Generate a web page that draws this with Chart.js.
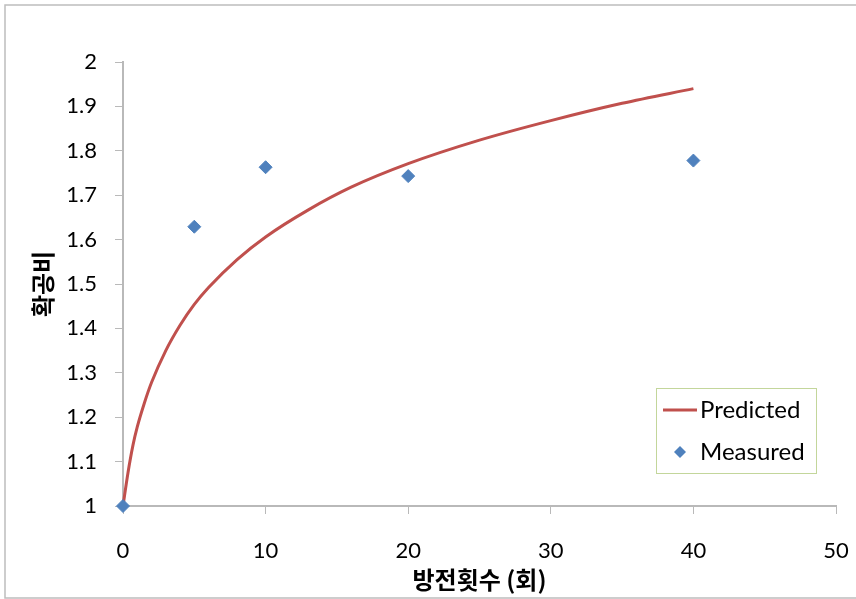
<!DOCTYPE html>
<html>
<head>
<meta charset="utf-8">
<script src="https://cdn.jsdelivr.net/npm/chart.js@4"></script>
<style>
  html, body { margin: 0; padding: 0; background: #fff; }
  #wrap { position: relative; width: 856px; height: 599px; }
</style>
</head>
<body>
<div id="wrap"><canvas id="chart-canvas" width="856" height="599"></canvas></div>
<script>
// values
const predictedX = [0, 0.35, 0.7, 1, 1.5, 2, 3, 4, 5, 6, 8, 10, 13, 16, 20, 25, 30, 35, 40];
const predictedY = [1, 1.075, 1.137, 1.178, 1.232, 1.278, 1.35, 1.407, 1.454, 1.492, 1.555, 1.606, 1.667, 1.718, 1.771, 1.824, 1.868, 1.907, 1.94];
const measuredX = [0, 5, 10, 20, 40];
const measuredY = [1, 1.629, 1.763, 1.743, 1.778];
const xTicks = [0, 10, 20, 30, 40, 50];
const yTicks = [1, 1.1, 1.2, 1.3, 1.4, 1.5, 1.6, 1.7, 1.8, 1.9, 2];
const xTitle = "방전횟수 (회)";
const yTitle = "확공비";

const RED = "#C0504D";
const BLUE = "#4F81BD";
const AXIS = "#b9b9b9";
const tickFont = { family: "Lato, 'Noto Sans', sans-serif", size: 22 };
const titleFont = { family: "'Noto Sans CJK KR', sans-serif", size: 24, weight: "bold" };

function toPoints(xs, ys) {
  return xs.map((x, i) => ({ x, y: ys[i] }));
}

// outer frame + boxed legend (drawn like the spreadsheet chart)
const framePlugin = {
  id: "frame",
  afterDraw(chart) {
    const ctx = chart.ctx;
    ctx.save();
    ctx.strokeStyle = "#bdbdbd";
    ctx.lineWidth = 1.5;
    ctx.strokeRect(5, 5, 852, 593);

    // legend box
    ctx.strokeStyle = "#c3d69b";
    ctx.lineWidth = 1;
    ctx.strokeRect(656.5, 388.5, 160, 85);
    ctx.font = "24px Lato, 'Noto Sans', sans-serif";
    ctx.fillStyle = "#000";
    ctx.textBaseline = "middle";
    ctx.textAlign = "left";
    const ds = chart.data.datasets;
    // Predicted
    ctx.strokeStyle = ds[1].borderColor;
    ctx.lineWidth = 3;
    ctx.beginPath();
    ctx.moveTo(663, 410);
    ctx.lineTo(697, 410);
    ctx.stroke();
    ctx.fillText(ds[1].label, 700, 410);
    // Measured
    ctx.fillStyle = ds[0].backgroundColor;
    ctx.beginPath();
    ctx.moveTo(680, 446);
    ctx.lineTo(686, 452);
    ctx.lineTo(680, 458);
    ctx.lineTo(674, 452);
    ctx.closePath();
    ctx.fill();
    ctx.fillStyle = "#000";
    ctx.fillText(ds[0].label, 700, 452);
    ctx.restore();
  },
};

function renderChart() {
  const ctx = document.getElementById("chart-canvas").getContext("2d");
  const config = {
    type: "scatter",
    data: {
      datasets: [
        {
          label: "Measured",
          data: toPoints(measuredX, measuredY),
          backgroundColor: BLUE,
          borderColor: BLUE,
          pointStyle: "rectRot",
          pointRadius: 6.5,
          showLine: false,
          clip: false,
          order: 1,
        },
        {
          label: "Predicted",
          data: toPoints(predictedX, predictedY),
          borderColor: RED,
          backgroundColor: RED,
          borderWidth: 3,
          pointRadius: 0,
          showLine: true,
          cubicInterpolationMode: "monotone",
          clip: false,
          order: 2,
        },
      ],
    },
    options: {
      responsive: false,
      animation: false,
      layout: { padding: { top: 62, right: 20, left: 0, bottom: 0 } },
      plugins: {
        legend: { display: false },
        tooltip: { enabled: false },
      },
      scales: {
        x: {
          type: "linear",
          min: 0,
          max: 50,
          afterBuildTicks: (s) => { s.ticks = xTicks.map((v) => ({ value: v })); },
          afterFit: (s) => {
            s.height = 93;
            s.paddingLeft = 0;
            s.paddingRight = 0;
          },
          ticks: { font: tickFont, color: "#000", padding: 24, maxRotation: 0, autoSkip: false },
          grid: { drawOnChartArea: false, drawTicks: true, tickLength: 8, color: AXIS, lineWidth: 1 },
          border: { color: AXIS, width: 2 },
          // bottom titles are offset by padding.bottom
          title: { display: true, text: xTitle, font: titleFont, color: "#000", padding: { top: 0, bottom: 5 } },
        },
        y: {
          type: "linear",
          min: 1,
          max: 2,
          afterBuildTicks: (s) => { s.ticks = yTicks.map((v) => ({ value: v })); },
          afterFit: (s) => { s.width = 123; },
          ticks: { font: tickFont, color: "#000", padding: 18, autoSkip: false, callback: (v) => String(Number(v.toFixed(1))) },
          grid: { drawOnChartArea: false, drawTicks: true, tickLength: 8, color: AXIS, lineWidth: 1 },
          border: { color: AXIS, width: 2 },
          title: { display: true, text: yTitle, font: titleFont, color: "#000", padding: { top: 28, bottom: 0 } },
        },
      },
    },
    plugins: [framePlugin],
  };
  new Chart(ctx, config);
}

renderChart();
</script>
</body>
</html>
